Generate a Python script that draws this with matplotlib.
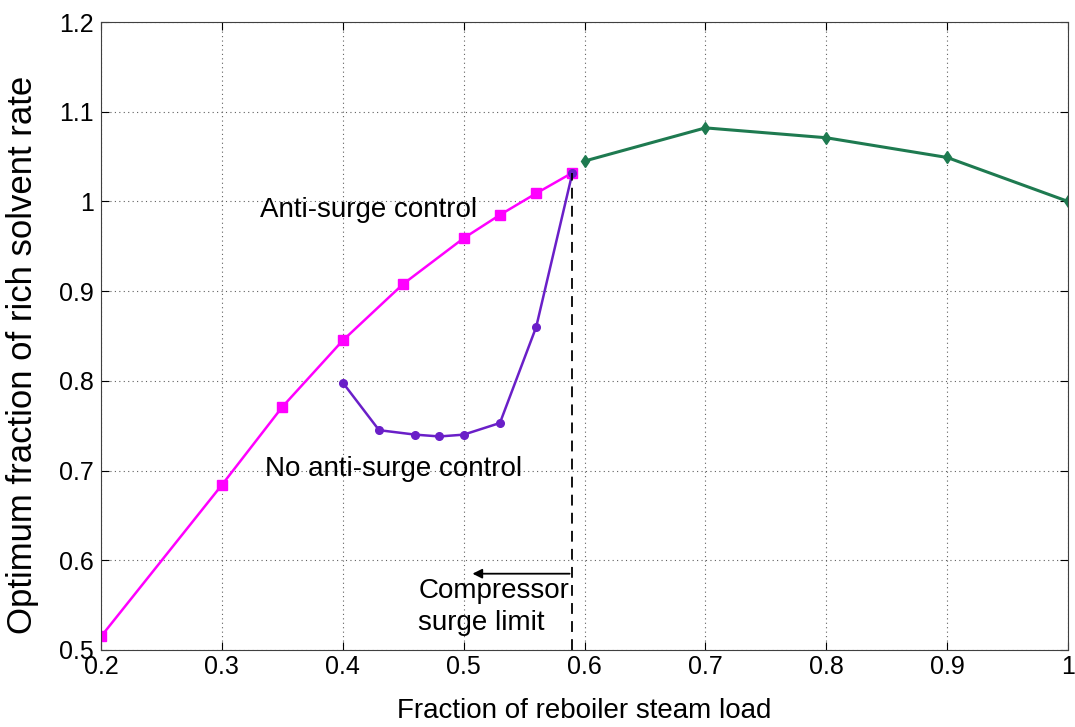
import numpy as np
import matplotlib.pyplot as plt

plt.rcParams['font.family'] = ['Liberation Sans', 'DejaVu Sans']

# anti-surge control
x_anti = [0.2, 0.3, 0.35, 0.4, 0.45, 0.5, 0.53, 0.56, 0.59]
y_anti = [0.515, 0.684, 0.771, 0.845, 0.908, 0.959, 0.985, 1.009, 1.032]

# no anti-surge control
x_none = [0.4, 0.43, 0.46, 0.48, 0.5, 0.53, 0.56, 0.59]
y_none = [0.798, 0.745, 0.740, 0.738, 0.740, 0.753, 0.860, 1.032]

# above surge limit
x_high = [0.6, 0.7, 0.8, 0.9, 1.0]
y_high = [1.045, 1.082, 1.071, 1.049, 1.0]

surge_x = 0.59

fig = plt.figure(figsize=(10.75, 7.27), dpi=100)
ax = fig.add_axes([0.094, 0.106, 0.8995, 0.8637])

ax.plot(x_anti, y_anti, color='#ff00ff', lw=1.8, marker='s', ms=6.5)
ax.plot(x_none, y_none, color='#6a1fc8', lw=1.8, marker='o', ms=5.5)
ax.plot(x_high, y_high, color='#1e7a50', lw=2.2, marker='d', ms=6.5)
ax.plot([surge_x, surge_x], [0.5, y_anti[-1]], color='black', lw=1.3, ls=(0, (6, 4)))

ax.annotate('', xy=(0.505, 0.585), xytext=(surge_x, 0.585),
            arrowprops=dict(arrowstyle='-|>', color='black', lw=1.3, mutation_scale=14))

ax.text(0.3315, 0.990, 'Anti-surge control', fontsize=20, ha='left', va='center')
ax.text(0.3357, 0.702, 'No anti-surge control', fontsize=20, ha='left', va='center')
ax.text(0.4625, 0.580, 'Compressor\nsurge limit', fontsize=20, ha='left', va='top',
        linespacing=1.3)

ax.set_xlim(0.2, 1.0)
ax.set_ylim(0.5, 1.2)
ax.set_xticks(np.arange(0.2, 1.01, 0.1))
ax.set_xticklabels(['0.2', '0.3', '0.4', '0.5', '0.6', '0.7', '0.8', '0.9', '1'])
ax.set_yticks(np.arange(0.5, 1.21, 0.1))
ax.set_yticklabels(['0.5', '0.6', '0.7', '0.8', '0.9', '1', '1.1', '1.2'])
ax.tick_params(direction='in', labelsize=18, length=6, top=True, right=True)
ax.tick_params(axis='y', pad=5)
ax.grid(True, color='#606060', ls=(0, (1, 3)), lw=0.8)
for s in ax.spines.values():
    s.set_color('#404040')

ax.set_xlabel('Fraction of reboiler steam load', fontsize=20)
ax.set_ylabel('Optimum fraction of rich solvent rate', fontsize=25)
ax.xaxis.set_label_coords(0.5, -0.097, transform=ax.transAxes)
ax.yaxis.set_label_coords(-0.0817, 0.47, transform=ax.transAxes)
ax.xaxis.label.set_va('center')
ax.yaxis.label.set_va('center')

fig.savefig('out.png', dpi=100)
